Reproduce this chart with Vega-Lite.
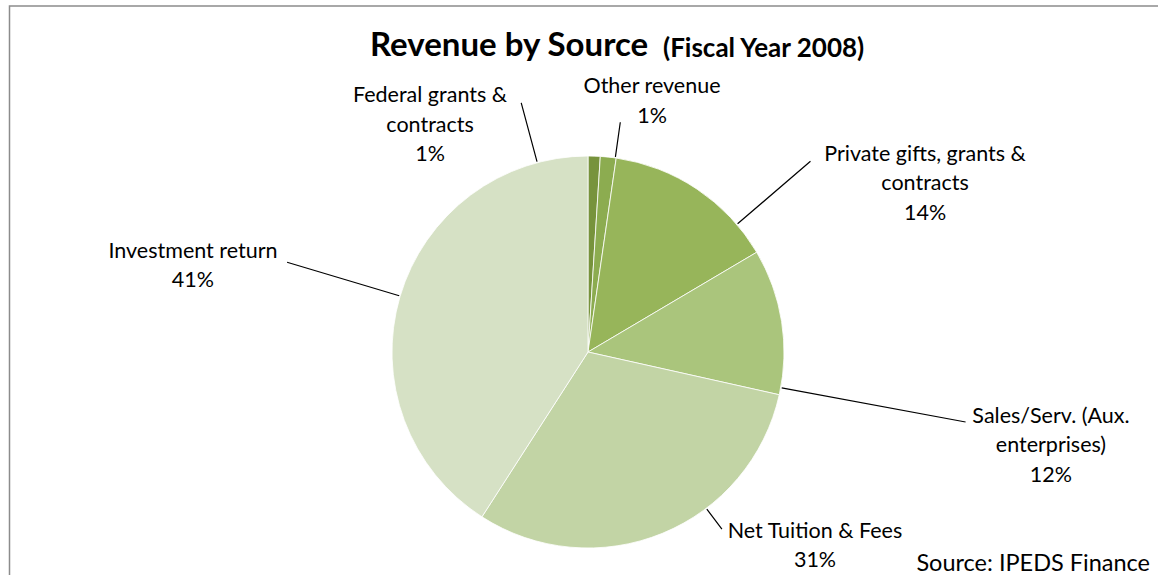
{
  "$schema": "https://vega.github.io/schema/vega-lite/v6.json",
  "autosize": {"type": "none"},
  "padding": {"left": 9.5, "top": 6, "right": -8.5, "bottom": -123},
  "width": 1157,
  "height": 692,
  "background": "white",
  "config": {"view": {"stroke": "#8c8c8c", "strokeWidth": 1.5}},
  "title": {
    "text": "Revenue by Source",
    "subtitle": "(Fiscal Year 2008)",
    "anchor": "start",
    "frame": "group",
    "orient": "top",
    "offset": -57,
    "dx": 653.5,
    "font": "Lato",
    "fontSize": 33,
    "fontWeight": "bold",
    "color": "#000000",
    "subtitleFont": "Lato",
    "subtitleFontSize": 26,
    "subtitleFontWeight": "bold",
    "subtitleColor": "#000000",
    "subtitlePadding": -27.5,
    "encoding": {"dx": {"value": 360.5}}
  },
  "data": {
    "values": [
      {"order": 1, "source": "Federal grants & contracts", "pct": 1.0, "label": "Federal grants &\ncontracts\n1%"},
      {"order": 2, "source": "Other revenue", "pct": 1.3, "label": "Other revenue\n1%"},
      {"order": 3, "source": "Private gifts, grants & contracts", "pct": 14.2, "label": "Private gifts, grants &\ncontracts\n14%"},
      {"order": 4, "source": "Sales/Serv. (Aux. enterprises)", "pct": 12.0, "label": "Sales/Serv. (Aux.\nenterprises)\n12%"},
      {"order": 5, "source": "Net Tuition & Fees", "pct": 30.6, "label": "Net Tuition & Fees\n31%"},
      {"order": 6, "source": "Investment return", "pct": 40.9, "label": "Investment return\n41%"}
    ]
  },
  "transform": [
    {"stack": "pct", "groupby": [], "sort": [{"field": "order", "order": "ascending"}], "as": ["p0", "p1"]}
  ],
  "layer": [
    {
      "mark": {"type": "arc", "radius": 196, "stroke": "#ffffff", "strokeWidth": 0.8},
      "encoding": {
        "theta": {"field": "p0", "type": "quantitative", "scale": {"domain": [0, 100]}},
        "theta2": {"field": "p1"},
        "color": {
          "field": "source", "type": "nominal", "legend": null,
          "scale": {
            "domain": ["Federal grants & contracts", "Other revenue", "Private gifts, grants & contracts", "Sales/Serv. (Aux. enterprises)", "Net Tuition & Fees", "Investment return"],
            "range": ["#77933C", "#8CAC50", "#97B55A", "#AAC57C", "#C2D4A5", "#D6E1C5"]
          }
        }
      }
    },
    {
      "transform": [{"filter": "datum.order == 1"}],
      "mark": {"type": "arc", "radius": 258, "radius2": 197, "thetaOffset": -0.2618, "theta2Offset": -0.2618, "stroke": "#000000", "strokeWidth": 1.2, "fillOpacity": 0},
      "encoding": {"theta": {"field": "p0", "type": "quantitative", "scale": {"domain": [0, 100]}}, "theta2": {"field": "p0"}}
    },
    {
      "transform": [{"filter": "datum.order == 2"}],
      "mark": {"type": "arc", "radius": 232, "radius2": 197, "thetaOffset": 0.0768, "theta2Offset": 0.0768, "stroke": "#000000", "strokeWidth": 1.2, "fillOpacity": 0},
      "encoding": {"theta": {"field": "p0", "type": "quantitative", "scale": {"domain": [0, 100]}}, "theta2": {"field": "p0"}}
    },
    {
      "transform": [{"filter": "datum.order == 3"}],
      "mark": {"type": "arc", "radius": 293, "radius2": 197, "thetaOffset": 0.7177, "theta2Offset": 0.7177, "stroke": "#000000", "strokeWidth": 1.2, "fillOpacity": 0},
      "encoding": {"theta": {"field": "p0", "type": "quantitative", "scale": {"domain": [0, 100]}}, "theta2": {"field": "p0"}}
    },
    {
      "transform": [{"filter": "datum.order == 4"}],
      "mark": {"type": "arc", "radius": 384, "radius2": 197, "thetaOffset": 0.7173, "theta2Offset": 0.7173, "stroke": "#000000", "strokeWidth": 1.2, "fillOpacity": 0},
      "encoding": {"theta": {"field": "p0", "type": "quantitative", "scale": {"domain": [0, 100]}}, "theta2": {"field": "p0"}}
    },
    {
      "transform": [{"filter": "datum.order == 5"}],
      "mark": {"type": "arc", "radius": 222, "radius2": 197, "thetaOffset": 0.7034, "theta2Offset": 0.7034, "stroke": "#000000", "strokeWidth": 1.2, "fillOpacity": 0},
      "encoding": {"theta": {"field": "p0", "type": "quantitative", "scale": {"domain": [0, 100]}}, "theta2": {"field": "p0"}}
    },
    {
      "transform": [{"filter": "datum.order == 6"}],
      "mark": {"type": "arc", "radius": 314, "radius2": 197, "thetaOffset": 1.2888, "theta2Offset": 1.2888, "stroke": "#000000", "strokeWidth": 1.2, "fillOpacity": 0},
      "encoding": {"theta": {"field": "p0", "type": "quantitative", "scale": {"domain": [0, 100]}}, "theta2": {"field": "p0"}}
    },
    {
      "transform": [{"filter": "datum.order == 1"}],
      "mark": {"type": "text", "radius": 300.8, "thetaOffset": -0.5529, "align": "center", "baseline": "middle", "font": "Lato", "fontSize": 21.5, "lineHeight": 29.5, "lineBreak": "\n", "color": "#000000"},
      "encoding": {"theta": {"field": "p0", "type": "quantitative", "scale": {"domain": [0, 100]}}, "text": {"field": "label"}}
    },
    {
      "transform": [{"filter": "datum.order == 2"}],
      "mark": {"type": "text", "radius": 272.6, "thetaOffset": 0.1742, "align": "center", "baseline": "middle", "font": "Lato", "fontSize": 21.5, "lineHeight": 29.5, "lineBreak": "\n", "color": "#000000"},
      "encoding": {"theta": {"field": "p0", "type": "quantitative", "scale": {"domain": [0, 100]}}, "text": {"field": "label"}}
    },
    {
      "transform": [{"filter": "datum.order == 3"}],
      "mark": {"type": "text", "radius": 390.4, "thetaOffset": 0.8973, "align": "center", "baseline": "middle", "font": "Lato", "fontSize": 21.5, "lineHeight": 29.5, "lineBreak": "\n", "color": "#000000"},
      "encoding": {"theta": {"field": "p0", "type": "quantitative", "scale": {"domain": [0, 100]}}, "text": {"field": "label"}}
    },
    {
      "transform": [{"filter": "datum.order == 4"}],
      "mark": {"type": "text", "radius": 467.5, "thetaOffset": 0.6735, "align": "center", "baseline": "middle", "font": "Lato", "fontSize": 21.5, "lineHeight": 29.5, "lineBreak": "\n", "color": "#000000"},
      "encoding": {"theta": {"field": "p0", "type": "quantitative", "scale": {"domain": [0, 100]}}, "text": {"field": "label"}}
    },
    {
      "transform": [{"filter": "datum.order == 5"}],
      "mark": {"type": "text", "radius": 289.7, "thetaOffset": 0.4505, "align": "center", "baseline": "middle", "font": "Lato", "fontSize": 21.5, "lineHeight": 29.5, "lineBreak": "\n", "color": "#000000"},
      "encoding": {"theta": {"field": "p0", "type": "quantitative", "scale": {"domain": [0, 100]}}, "text": {"field": "label"}}
    },
    {
      "transform": [{"filter": "datum.order == 6"}],
      "mark": {"type": "text", "radius": 407.5, "thetaOffset": 1.247, "align": "center", "baseline": "middle", "font": "Lato", "fontSize": 21.5, "lineHeight": 29.5, "lineBreak": "\n", "color": "#000000"},
      "encoding": {"theta": {"field": "p0", "type": "quantitative", "scale": {"domain": [0, 100]}}, "text": {"field": "label"}}
    },
    {
      "transform": [{"filter": "datum.order == 1"}],
      "mark": {"type": "text", "align": "right", "baseline": "alphabetic", "dx": -16.5, "dy": -127, "font": "Lato", "fontSize": 23.5, "color": "#000000"},
      "encoding": {"x": {"value": "width"}, "y": {"value": "height"}, "text": {"value": "Source: IPEDS Finance"}}
    }
  ]
}
